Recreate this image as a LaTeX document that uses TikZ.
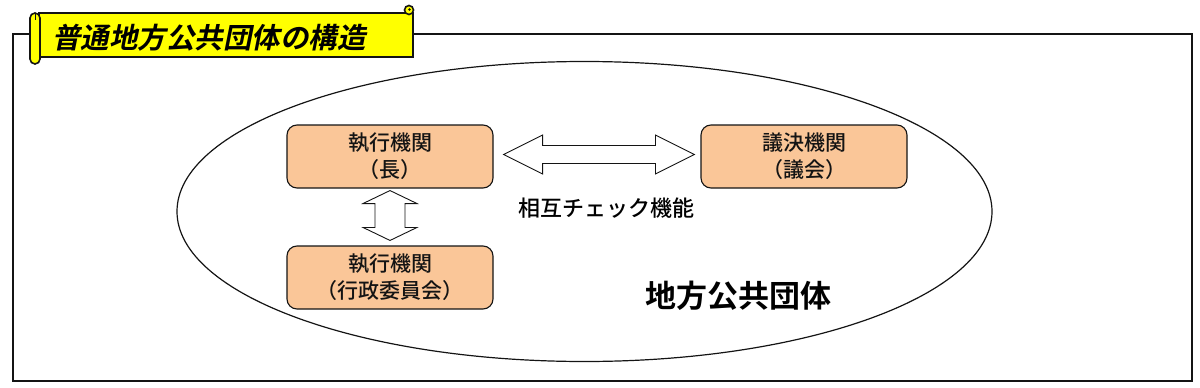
\documentclass[tikz,border=0pt]{standalone}
\usepackage{fontspec}
\newfontfamily\jpfont{Noto Sans CJK JP Medium}[BoldFont={Noto Sans CJK JP Bold}]
\newfontfamily\jptitle{Noto Sans CJK JP Bold}[FakeSlant=0.2]
\usepackage{tikz}
\usetikzlibrary{
  positioning,
  calc,
}
\definecolor{lgOrange} {RGB}{250, 198, 152}
\definecolor{lgYellow} {RGB}{255, 255,   0}
\definecolor{lgInk}    {RGB}{ 20,  20,  20}

\begin{document}
\begin{tikzpicture}[
  x=1pt, y=-1pt,
  organ/.style={draw=lgInk, line width=1.1pt, rounded corners=10pt,
                minimum width=206pt, minimum height=63pt,
                align=center, fill=lgOrange, text=lgInk,
                font=\jpfont\fontsize{21}{27}\selectfont},
  dbl/.style={draw=lgInk, line width=0.9pt, fill=white, line join=miter},
  scroll/.style={draw=lgInk, line width=1.6pt, fill=lgYellow},
]
  \useasboundingbox (0,0) rectangle (1200,388);

  % outer frame, the banner sits on its top edge
  \node[draw=lgInk, line width=2.6pt, minimum width=1179pt, minimum height=347pt,
        inner sep=0pt] (frame) at (602.5,207.5) {};

  % the local body itself
  \draw[lgInk, line width=1.2pt] (584.5,211.5) ellipse [x radius=407.5, y radius=150];
  \node[font=\jpfont\bfseries\fontsize{31}{34}\selectfont, inner sep=0pt]
       (body) at (738,296) {地方公共団体};

  % the three organs
  \node[organ] (chief)   at (390,156.5) {執行機関\\（長）};
  \node[organ] (council) at (804,156.5) {議決機関\\（議会）};
  \node[organ] (board)   at (390,277.5) {執行機関\\（行政委員会）};

  % checks between chief and council
  \coordinate (hl) at ($(chief.east)+(10,-2)$);
  \coordinate (hr) at ($(council.west)+(-6,-2)$);
  \draw[dbl] (hl) -- ($(hl)+(39,-19.5)$) -- ($(hl)+(39,-9)$)
             -- ($(hr)+(-39,-9)$) -- ($(hr)+(-39,-19.5)$) -- (hr)
             -- ($(hr)+(-39,19.5)$) -- ($(hr)+(-39,9)$)
             -- ($(hl)+(39,9)$) -- ($(hl)+(39,19.5)$) -- cycle;
  \node[font=\jpfont\fontsize{22}{24}\selectfont, inner sep=0pt]
       (check) at (606,208) {相互チェック機能};

  % chief <-> board
  \coordinate (vt) at ($(chief.south)+(0,2)$);
  \coordinate (vb) at ($(board.north)+(0,-5)$);
  \draw[dbl] (vt) -- ($(vt)+(27,13)$) -- ($(vt)+(15,13)$)
             -- ($(vb)+(15,-13)$) -- ($(vb)+(27,-13)$) -- (vb)
             -- ($(vb)+(-27,-13)$) -- ($(vb)+(-15,-13)$)
             -- ($(vt)+(-15,13)$) -- ($(vt)+(-27,13)$) -- cycle;

  % title scroll
  \draw[scroll] (39,13) -- (408,13) -- (413,13) -- (413,57) -- (39,57) -- cycle;
  \draw[scroll] (409,10) circle [radius=4.5];
  \fill[lgInk] (409.5,9.5) circle [radius=1.4];
  \draw[scroll, rounded corners=5pt] (30,13) rectangle (40,64);
  \draw[lgInk, line width=1pt] (35,13) -- (35,20);
  \node[font=\jptitle\fontsize{28.5}{30}\selectfont, inner sep=0pt, anchor=west]
       (title) at (52,38) {普通地方公共団体の構造};
\end{tikzpicture}
\end{document}
